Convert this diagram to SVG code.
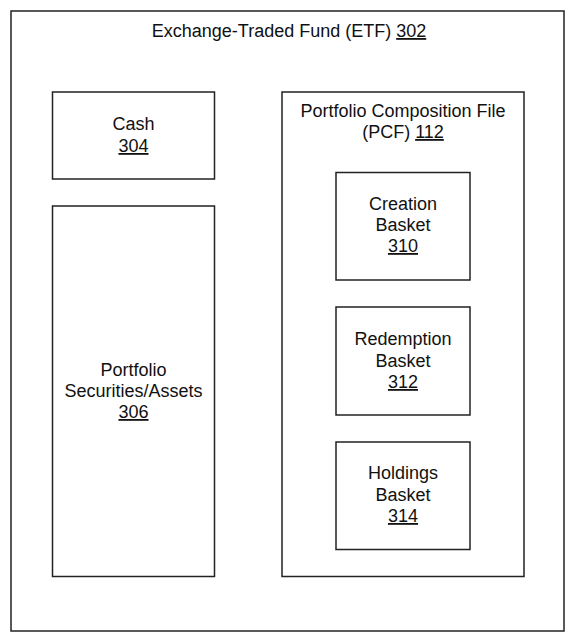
<svg xmlns="http://www.w3.org/2000/svg" width="575" height="639" viewBox="0 0 575 639">
<style>
rect{fill:#fff;stroke:#222;stroke-width:1.5}
text{font-family:"Liberation Sans",Arial,sans-serif;font-size:18px;fill:#111;text-anchor:middle}
.u{text-decoration:underline}
</style>
<rect x="0" y="0" width="575" height="639" style="stroke:none"/>
<g id="etf">
<rect x="11" y="11" width="553" height="620"/>
<text x="289" y="37">Exchange-Traded Fund (ETF) <tspan class="u">302</tspan></text>
</g>
<g id="cash">
<rect x="52.5" y="92" width="162" height="87"/>
<text x="133.5" y="130">Cash</text>
<text x="133.5" y="152" class="u">304</text>
</g>
<g id="securities">
<rect x="52.5" y="206" width="162" height="370.5"/>
<text x="133.5" y="376">Portfolio</text>
<text x="133.5" y="397">Securities/Assets</text>
<text x="133.5" y="418" class="u">306</text>
</g>
<g id="pcf">
<rect x="282" y="92" width="242" height="484.5"/>
<text x="403" y="117">Portfolio Composition File</text>
<text x="403" y="138">(PCF) <tspan class="u">112</tspan></text>
</g>
<g id="creation">
<rect x="336" y="172.5" width="134" height="107.5"/>
<text x="403" y="210">Creation</text>
<text x="403" y="231">Basket</text>
<text x="403" y="252" class="u">310</text>
</g>
<g id="redemption">
<rect x="336" y="307" width="134" height="108"/>
<text x="403" y="345">Redemption</text>
<text x="403" y="366.5">Basket</text>
<text x="403" y="388" class="u">312</text>
</g>
<g id="holdings">
<rect x="336" y="442" width="134" height="107.5"/>
<text x="403" y="479">Holdings</text>
<text x="403" y="500.5">Basket</text>
<text x="403" y="522" class="u">314</text>
</g>
<g id="connectors"></g>
</svg>
